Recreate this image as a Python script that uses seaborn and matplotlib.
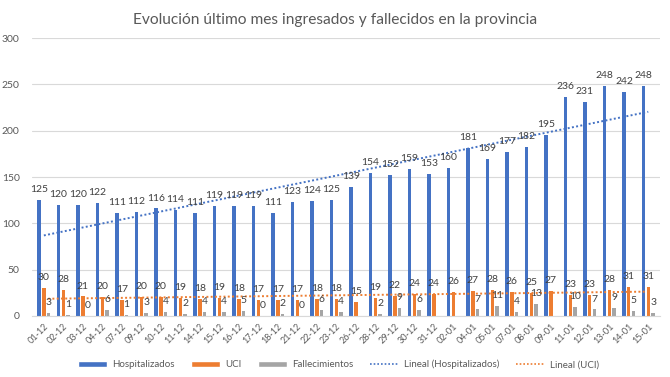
import numpy as np
import pandas as pd
import matplotlib
matplotlib.use("Agg")
import matplotlib.pyplot as plt
import seaborn as sns
from matplotlib.patches import Patch
from matplotlib.lines import Line2D

fechas = ["01-12", "02-12", "03-12", "04-12", "07-12", "09-12", "10-12", "11-12",
          "14-12", "15-12", "16-12", "17-12", "18-12", "21-12", "22-12", "23-12",
          "26-12", "28-12", "29-12", "30-12", "31-12", "02-01", "04-01", "05-01",
          "07-01", "08-01", "09-01", "11-01", "12-01", "13-01", "14-01", "15-01"]
hospitalizados = [125, 120, 120, 122, 111, 112, 116, 114, 111, 119, 119, 119, 111, 123, 124, 125,
                  139, 154, 152, 159, 153, 160, 181, 169, 177, 182, 195, 236, 231, 248, 242, 248]
uci = [30, 28, 21, 20, 17, 20, 20, 19, 18, 19, 18, 17, 17, 17, 18, 18,
       15, 19, 22, 24, 24, 26, 27, 28, 26, 25, 27, 23, 23, 28, 31, 31]
fallecimientos = [3, 1, 0, 6, 1, 3, 4, 2, 4, 4, 5, 0, 2, 0, 6, 4,
                  np.nan, 2, 9, 6, np.nan, np.nan, 7, 11, 4, 13, np.nan, 10, 7, 9, 5, 3]

series = ["Hospitalizados", "UCI", "Fallecimientos"]
colors = ["#4472C4", "#ED7D31", "#A5A5A5"]

df = pd.DataFrame({
    "fecha": fechas * 3,
    "serie": sum([[s] * len(fechas) for s in series], []),
    "valor": hospitalizados + uci + fallecimientos,
})

sns.set_style("white")
plt.rcParams['font.family'] = ['Lato', 'DejaVu Sans']

fig = plt.figure(figsize=(6.7, 3.77), dpi=100)
ax = fig.add_axes([0.048, 0.162, 0.937, 0.737])

sns.barplot(data=df, x="fecha", y="valor", hue="serie", hue_order=series,
            palette=colors, width=0.74, gap=0.28, ax=ax, legend=False,
            saturation=1, errorbar=None, linewidth=0, edgecolor="none")

# trend lines
x = np.arange(len(fechas))
for vals, col in [(hospitalizados, "#4472C4"), (uci, "#ED7D31")]:
    v = np.array(vals, dtype=float)
    m, b = np.polyfit(x, v, 1)
    ax.plot(x, m * x + b, linestyle=(0, (1, 1.2)), color=col, linewidth=1.4, zorder=3)

# labels
for cont in ax.containers:
    for bar in cont:
        h = bar.get_height()
        if np.isnan(h):
            continue
        ax.annotate(f"{int(round(h))}", (bar.get_x() + bar.get_width() / 2, h),
                    xytext=(0, 7.5), textcoords="offset points", ha="center", va="center",
                    fontsize=7.5, color="#404040", zorder=4)

ax.set_ylim(0, 300)
ax.set_xlim(-0.6, len(fechas) - 0.4)
ax.set_yticks(range(0, 301, 50))
ax.yaxis.grid(True, color="#D9D9D9", linewidth=0.8)
ax.set_axisbelow(True)
for s in ["top", "right", "left"]:
    ax.spines[s].set_visible(False)
ax.spines["bottom"].set_color("#D9D9D9")
ax.set_xlabel("")
ax.set_ylabel("")
ax.tick_params(axis="y", labelsize=7.5, colors="#595959", length=0, pad=9)
ax.tick_params(axis="x", labelsize=6.5, colors="#595959", length=0, pad=4)
plt.setp(ax.get_xticklabels(), rotation=45, ha="right", rotation_mode="anchor")

fig.suptitle("Evolución último mes ingresados y fallecidos en la provincia",
             y=0.965, fontsize=11.2, color="#595959")

handles = [
    Patch(facecolor="#4472C4", label="Hospitalizados"),
    Patch(facecolor="#ED7D31", label="UCI"),
    Patch(facecolor="#A5A5A5", label="Fallecimientos"),
    Line2D([0], [0], color="#4472C4", linestyle=(0, (1, 1.2)), linewidth=1.2, label="Lineal (Hospitalizados)"),
    Line2D([0], [0], color="#ED7D31", linestyle=(0, (1, 1.2)), linewidth=1.2, label="Lineal (UCI)"),
]
fig.legend(handles=handles, loc="center", bbox_to_anchor=(0.505, 0.033), ncol=5,
           frameon=False, fontsize=7, labelcolor="#595959", handlelength=3.0,
           handleheight=0.5, columnspacing=1.7, handletextpad=0.5)

fig.savefig("out.png", dpi=100)
